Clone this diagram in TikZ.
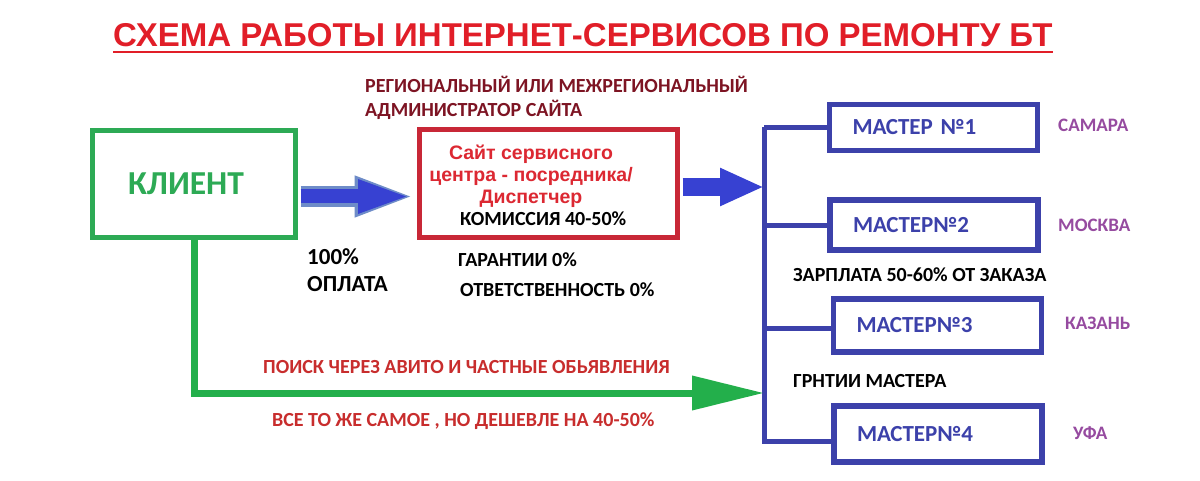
\documentclass[tikz,border=0pt]{standalone}
\usepackage{fontspec}
\setmainfont{Carlito}
\newfontfamily\arialfont{Liberation Sans}
\usepackage{xcolor}
\usepackage{tikz}
\usetikzlibrary{arrows.meta,positioning,calc}

\definecolor{titlered}{RGB}{225,30,40}
\definecolor{adminred}{RGB}{125,20,35}
\definecolor{clientgreen}{RGB}{45,170,85}
\definecolor{sitered}{RGB}{200,40,55}
\definecolor{sitetextred}{RGB}{220,40,50}
\definecolor{arrowblue}{RGB}{55,65,210}
\definecolor{arrowedge}{RGB}{110,140,200}
\definecolor{masterblue}{RGB}{60,65,170}
\definecolor{cityviolet}{RGB}{150,75,160}
\definecolor{searchred}{RGB}{200,45,45}
\definecolor{routegreen}{RGB}{35,175,75}

\begin{document}
\begin{tikzpicture}[
    x=1pt, y=-1pt,
    box/.style = {draw, line width=5pt, inner sep=0pt},
    master_box/.style = {draw=masterblue, line width=5.5pt, text width=162pt, inner xsep=23pt, inner ysep=0pt, align=left, text=masterblue, font=\bfseries\fontsize{23}{26}\selectfont},
    city_label/.style = {anchor=base west, inner sep=0pt, text=cityviolet, font=\bfseries\fontsize{19}{22}\selectfont},
    note_text/.style = {anchor=base west, inner sep=0pt, align=left, font=\bfseries\fontsize{20}{27}\selectfont},
    bus_line/.style = {draw=masterblue, line width=5pt}
]
    \fill[white] (0,0) rectangle (1200,481);
    \useasboundingbox (0,0) rectangle (1200,481);

    \node[anchor=base west, inner sep=0pt, text=titlered, font=\arialfont\bfseries\fontsize{33}{36}\selectfont] (title) at (113,47) {СХЕМА РАБОТЫ ИНТЕРНЕТ-СЕРВИСОВ ПО РЕМОНТУ БТ};
    \draw[titlered, line width=2.5pt] ($(title.base west)+(0,5)$) -- ($(title.base east)+(0,5)$);

    \node[note_text, text=adminred, font=\bfseries\fontsize{20}{24}\selectfont] (admin) at (365,117) {РЕГИОНАЛЬНЫЙ ИЛИ МЕЖРЕГИОНАЛЬНЫЙ\\АДМИНИСТРАТОР САЙТА};

    \node[box, draw=clientgreen, minimum width=203pt, minimum height=107pt, text=clientgreen, font=\bfseries\fontsize{33.5}{36}\selectfont] (client) at (194,184) {КЛИЕНТ\hspace*{16pt}};
    \node[box, draw=sitered, minimum width=258pt, minimum height=108pt] (site) at (548.5,183.5) {};
    \node[anchor=base, inner sep=0pt, align=center, text=sitetextred, font=\arialfont\bfseries\fontsize{19.5}{22}\selectfont] (site_text) at (531,204) {Сайт сервисного\\центра - посредника/\\Диспетчер};
    \node[note_text] (commission) at (460,226) {КОМИССИЯ 40-50\%};

    \node[master_box, minimum height=46pt] (m1) at (933.5,127.5) {МАСТЕР №1};
    \node[master_box, minimum height=50pt] (m2) at (934,225) {МАСТЕР№2};
    \node[master_box, minimum height=53pt] (m3) at (937.5,325.5) {МАСТЕР№3};
    \node[master_box, minimum height=56pt] (m4) at (938,434) {МАСТЕР№4};

    \node[city_label] (samara) at (1058,132) {САМАРА};
    \node[city_label] (moscow) at (1058,232) {МОСКВА};
    \node[city_label] (kazan) at (1065,329) {КАЗАНЬ};
    \node[city_label] (ufa) at (1073,439) {УФА};

    % bus to the masters
    \coordinate (bus) at (764,0);
    \draw[bus_line] (m1.west -| bus) -- ($(m4.west -| bus)+(0,9.5)$);
    \foreach \i/\dy in {1/0, 2/1, 3/3, 4/7}
        \draw[bus_line] ($(m\i.west)+(0,\dy)$) -- ($(m\i.west -| bus)+(0,\dy)$);

    % payment arrow
    \coordinate (pay) at ($(client.east)+(2.5,12.5)$);
    \draw[arrowedge, line width=21pt, -{Triangle[length=60pt,width=37pt]}, shorten >=2.5pt] (pay) -- (pay -| site.west);
    \draw[arrowblue, line width=14pt, -{Triangle[length=53pt,width=30pt]}, shorten >=6pt] (pay) -- (pay -| site.west);

    \draw[arrowblue, line width=18pt, -{Triangle[length=44pt,width=35pt]}] ($(site.east)+(2.5,3.5)$) -- ($(site.east -| bus)+(0,3.5)$);

    \coordinate (green_end) at (764,393);
    \draw[routegreen, line width=7pt, -{Triangle[length=72pt,width=33pt]}] (client.south) |- (green_end);

    \node[note_text, font=\bfseries\fontsize{23}{27}\selectfont] (payment) at (307,291) {100\%\\ОПЛАТА};
    \node[note_text] (warranty) at (458,266) {ГАРАНТИИ 0\%};
    \node[note_text] (liability) at (460,296) {ОТВЕТСТВЕННОСТЬ 0\%};
    \node[note_text] (salary) at (793,282) {ЗАРПЛАТА 50-60\% ОТ ЗАКАЗА};
    \node[note_text] (master_warranty) at (793,387) {ГРНТИИ МАСТЕРА};

    \node[note_text, text=searchred] (search) at (263,373) {ПОИСК ЧЕРЕЗ АВИТО И ЧАСТНЫЕ ОБЬЯВЛЕНИЯ};
    \node[note_text, text=searchred] (cheaper) at (272,426) {ВСЕ ТО ЖЕ САМОЕ , НО ДЕШЕВЛЕ НА 40-50\%};
\end{tikzpicture}
\end{document}
